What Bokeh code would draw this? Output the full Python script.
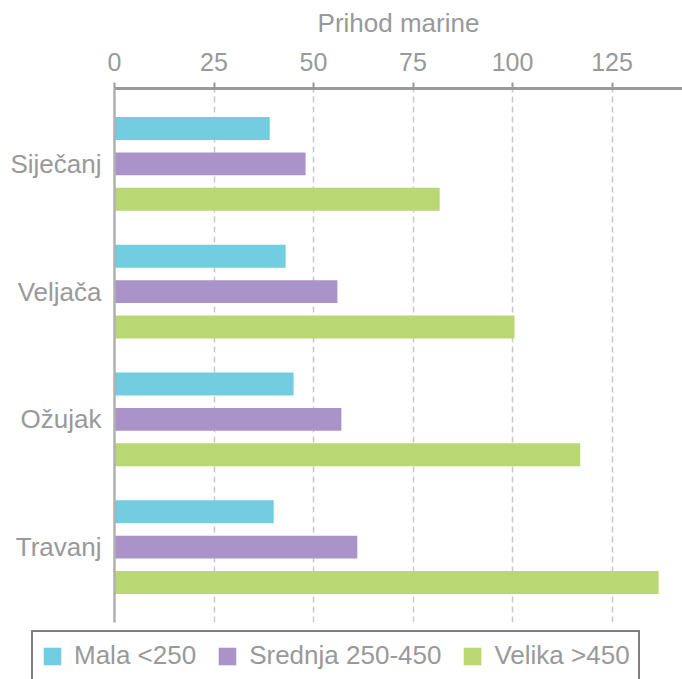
from bokeh.plotting import figure
from bokeh.models import ColumnDataSource, FactorRange, Range1d, FixedTicker, Legend, LegendItem
from bokeh.transform import dodge
from bokeh.embed import file_html
from bokeh.resources import INLINE

months = ["Siječanj", "Veljača", "Ožujak", "Travanj"]
series_names = ["Mala <250", "Srednja 250-450", "Velika >450"]
mala = [39, 43, 45, 40]
srednja = [48, 56, 57, 61]
velika = [81.7, 100.5, 117, 136.7]
x_ticks = [0, 25, 50, 75, 100, 125]

colors = ["#72CDE0", "#A993C8", "#B9D874"]
offsets = [0.277, 0.0, -0.277]
FONT = "Liberation Sans"
TXT = "#999999"

p = figure(width=682, height=626, output_backend="svg", toolbar_location=None,
           y_range=FactorRange(factors=list(reversed(months)), range_padding=0.045),
           x_range=Range1d(0, 142.7), x_axis_location="above",
           min_border_left=114, min_border_top=88, min_border_right=0, min_border_bottom=4)
p.outline_line_color = None

sources = []
for name, vals, col, off in zip(series_names, [mala, srednja, velika], colors, offsets):
    src = ColumnDataSource(dict(month=months, val=vals))
    sources.append(src)
    p.hbar(y=dodge("month", off, range=p.y_range), right="val", left=0, height=0.18,
           source=src, fill_color=col, line_color=None)

# top axis
xa = p.xaxis[0]
xa.ticker = FixedTicker(ticks=x_ticks)
xa.axis_label = "Prihod marine"
xa.axis_label_text_font = FONT
xa.axis_label_text_font_size = "26px"
xa.axis_label_text_font_style = "normal"
xa.axis_label_text_color = TXT
xa.axis_label_standoff = 12
xa.major_label_text_font = FONT
xa.major_label_text_font_size = "25px"
xa.major_label_text_color = TXT
xa.major_label_standoff = 12
xa.axis_line_color = "#9a9a9a"
xa.axis_line_width = 3
xa.major_tick_line_color = "#9a9a9a"
xa.major_tick_line_width = 2
xa.major_tick_out = 6
xa.major_tick_in = 0
xa.minor_tick_line_color = None

ya = p.yaxis[0]
ya.major_label_text_font = FONT
ya.major_label_text_font_size = "26px"
ya.major_label_text_color = TXT
ya.major_label_standoff = 7
ya.axis_line_color = "#b0b0b0"
ya.axis_line_width = 2.5
ya.major_tick_line_color = None
ya.minor_tick_line_color = None

p.ygrid.grid_line_color = None
p.xgrid.ticker = FixedTicker(ticks=x_ticks)
p.xgrid.grid_line_color = "#c8c8c8"
p.xgrid.grid_line_width = 1.5
p.xgrid.grid_line_dash = "6 4"

# legend strip below the chart (separate root); its bars lie far outside its ranges,
# so only the legend swatches show
lf = figure(width=682, height=53, output_backend="svg", toolbar_location=None,
            x_axis_type=None, y_axis_type=None,
            x_range=Range1d(-1000, -999), y_range=Range1d(-1000, -999),
            min_border=0, min_border_left=0, min_border_right=0, min_border_top=0,
            min_border_bottom=0)
lf.outline_line_color = None
lf.grid.visible = False
items = []
for name, src, col in zip(series_names, sources, colors):
    r = lf.hbar(y=0, right="val", left=0, height=0.1, source=src,
                fill_color=col, line_color=None)
    items.append(LegendItem(label=name, renderers=[r]))

legend = Legend(items=items, orientation="horizontal", location=(31, -2))
legend.label_text_font = FONT
legend.label_text_font_size = "26px"
legend.label_text_color = TXT
legend.glyph_width = 22
legend.glyph_height = 22
legend.label_standoff = 11
legend.spacing = 20
legend.padding = 8
legend.margin = 0
legend.border_line_color = "black"
legend.border_line_width = 2.5
legend.background_fill_alpha = 1
lf.add_layout(legend, "center")

open("out.html", "w").write(file_html([p, lf], INLINE))
